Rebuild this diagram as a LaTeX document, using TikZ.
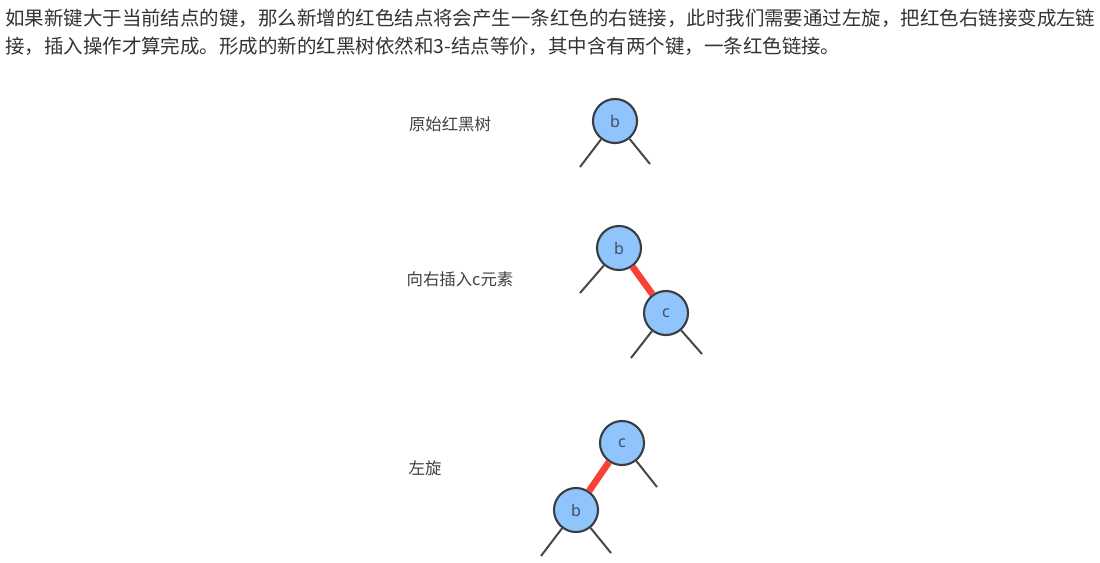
\documentclass[tikz,border=0pt]{standalone}
\usepackage{fontspec}
\newfontfamily\cjk{Noto Sans CJK SC}
\newfontfamily\keyfont{Noto Sans}
\definecolor{keyblue}{HTML}{90C4FC}
\definecolor{rimgray}{HTML}{3A3D42}
\definecolor{keytext}{HTML}{3E4F66}
\definecolor{linkgray}{HTML}{45474B}
\definecolor{linkred}{HTML}{FA3F36}
\definecolor{textgray}{HTML}{333333}
\definecolor{capgray}{HTML}{404040}
\begin{document}
\begin{tikzpicture}[x=0.75pt,y=-0.75pt,
  key/.style={circle, fill=keyblue, draw=rimgray, line width=1.6pt, minimum size=33pt, inner sep=0pt, font=\keyfont\fontsize{12}{12}\selectfont, text=keytext},
  link/.style={draw=linkgray, line width=1.5pt},
  redlink/.style={draw=linkred, line width=5pt},
  caption/.style={font=\cjk\fontsize{12.3}{14}\selectfont, text=capgray},
  para/.style={anchor=base west, inner sep=0pt, font=\cjk\fontsize{14.6}{16}\selectfont, text=textgray}]
\useasboundingbox (0,0) rectangle (1100,562);
% text above the trees
\node [para] (line1) at (5,25) {如果新键大于当前结点的键，那么新增的红色结点将会产生一条红色的右链接，此时我们需要通过左旋，把红色右链接变成左链};
\node [para] (line2) at (5,53) {接，插入操作才算完成。形成的新的红黑树依然和3-结点等价，其中含有两个键，一条红色链接。};
% original tree
\node [caption] (cap1) at (450,124) {原始红黑树};
\node [key] (b1) at (615,121) {b};
\coordinate (b1l) at (580,167);
\coordinate (b1r) at (650,164);
\draw [link] (b1) -- (b1l);
\draw [link] (b1) -- (b1r);
% insert c on the right
\node [caption] (cap2) at (460,279) {向右插入c元素};
\node [key] (b2) at (619,248) {b};
\node [key] (c2) at (666,313) {c};
\coordinate (b2l) at (580,293);
\coordinate (c2l) at (631,358);
\coordinate (c2r) at (702,354);
\draw [redlink] (b2) -- (c2);
\draw [link] (b2) -- (b2l);
\draw [link] (c2) -- (c2l);
\draw [link] (c2) -- (c2r);
% after left rotation
\node [caption] (cap3) at (425,468) {左旋};
\node [key] (c3) at (622,443) {c};
\node [key] (b3) at (576,510) {b};
\coordinate (c3r) at (657,487);
\coordinate (b3l) at (541,556);
\coordinate (b3r) at (611,553);
\draw [redlink] (c3) -- (b3);
\draw [link] (c3) -- (c3r);
\draw [link] (b3) -- (b3l);
\draw [link] (b3) -- (b3r);
\end{tikzpicture}
\end{document}
